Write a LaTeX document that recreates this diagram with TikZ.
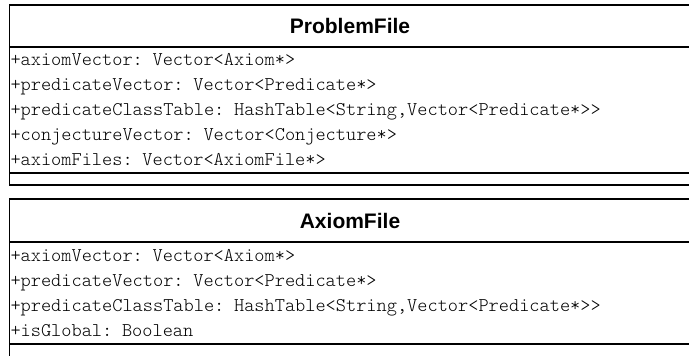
\documentclass[tikz,border=0pt]{standalone}
\usepackage{fontspec}
\setsansfont{Liberation Sans}
\setmonofont{Latin Modern Mono Light}
\usetikzlibrary{positioning}

\tikzset{
  classname/.style={draw, line width=1.6pt, outer sep=0pt, inner sep=0pt,
    minimum width=681pt, minimum height=42pt,
    font=\sffamily\bfseries\fontsize{21}{24}\selectfont},
  members/.style={draw, line width=1.6pt, outer sep=0pt, inner xsep=1pt, inner ysep=0pt,
    minimum width=681pt, text width=679pt, align=left,
    font=\ttfamily\fontsize{19.4}{25}\selectfont},
  methods/.style={draw, line width=1.6pt, outer sep=0pt, inner sep=0pt,
    minimum width=681pt, minimum height=12pt},
}

\begin{document}
\begin{tikzpicture}
  \useasboundingbox (0,0) rectangle (689pt,-356pt);

  % ProblemFile
  \node[classname, anchor=north west] (problemfile) at (9.5pt,-4.7pt) {ProblemFile};
  \node[members, minimum height=126.3pt, below=0pt of problemfile] (problemattrs) {%
    +axiomVector: Vector<Axiom*>\\
    +predicateVector: Vector<Predicate*>\\
    +predicateClassTable: HashTable<String,Vector<Predicate*>>\\
    +conjectureVector: Vector<Conjecture*>\\
    +axiomFiles: Vector<AxiomFile*>};
  \node[methods, below=0pt of problemattrs] (problemops) {};

  % AxiomFile
  \node[classname, minimum height=43pt, below=14pt of problemops] (axiomfile) {AxiomFile};
  \node[members, minimum height=102pt, below=0pt of axiomfile] (axiomattrs) {%
    +axiomVector: Vector<Axiom*>\\
    +predicateVector: Vector<Predicate*>\\
    +predicateClassTable: HashTable<String,Vector<Predicate*>>\\
    +isGlobal: Boolean};
  \node[methods, minimum height=20pt, below=0pt of axiomattrs] (axiomops) {};
\end{tikzpicture}
\end{document}
